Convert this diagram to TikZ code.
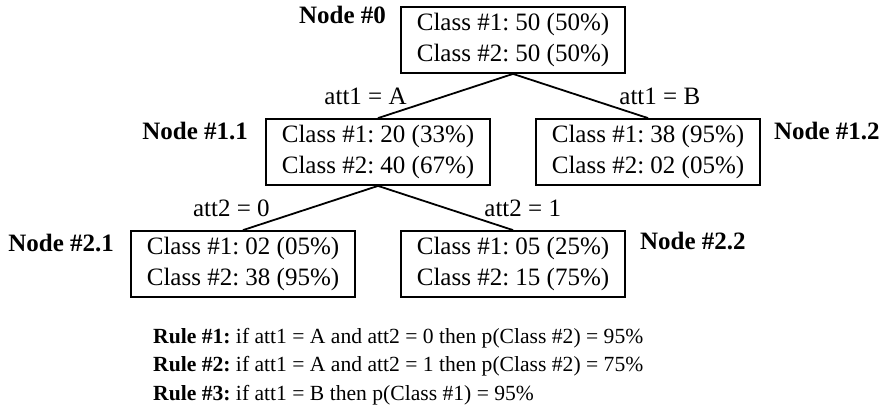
\documentclass[tikz,border=0pt]{standalone}
\usepackage{fontspec}
\setmainfont{Liberation Serif}
\usepackage{tikz}
\usetikzlibrary{positioning}
\frenchspacing
\tikzstyle{split} = [rectangle, draw=black, line width=1.8pt, minimum width=224pt, minimum height=66pt, inner ysep=4pt, align=center, font=\fontsize{25}{31}\selectfont]
\tikzstyle{nodelabel} = [inner sep=0pt, font=\fontsize{25}{30}\selectfont\bfseries]
\tikzstyle{branch} = [inner sep=0pt, font=\fontsize{25}{30}\selectfont]
\tikzstyle{edge} = [line width=1.8pt]
\tikzstyle{rulestext} = [inner sep=0pt, align=left, font=\fontsize{21.6}{28.5}\selectfont]

\begin{document}
\begin{tikzpicture}[x=1pt, y=-1pt, node distance=112pt and 135pt, on grid]
  \useasboundingbox (0,0) rectangle (882,412);
  \node (n0) [split] at (513,40) {Class \#1: 50 (50\%)\\Class \#2: 50 (50\%)};
  \node (n11) [split, below left=of n0] {Class \#1: 20 (33\%)\\Class \#2: 40 (67\%)};
  \node (n12) [split, below right=of n0] {Class \#1: 38 (95\%)\\Class \#2: 02 (05\%)};
  \node (n21) [split, below left=of n11] {Class \#1: 02 (05\%)\\Class \#2: 38 (95\%)};
  \node (n22) [split, below right=of n11] {Class \#1: 05 (25\%)\\Class \#2: 15 (75\%)};

  \node (lab0) [nodelabel, anchor=north east] at ([xshift=-14pt]n0.north west) {Node \#0};
  \node (lab11) [nodelabel, anchor=north east] at ([xshift=-17pt, yshift=-4pt]n11.north west) {Node \#1.1};
  \node (lab12) [nodelabel, anchor=north west] at ([xshift=13pt, yshift=-4pt]n12.north east) {Node \#1.2};
  \node (lab21) [nodelabel, anchor=north east] at ([xshift=-16pt, yshift=-4pt]n21.north west) {Node \#2.1};
  \node (lab22) [nodelabel, anchor=north west] at ([xshift=14pt, yshift=-2pt]n22.north east) {Node \#2.2};

  \draw[edge] (n0.south) -- node[branch, anchor=east, xshift=-38pt] {att1 = A} (n11.north);
  \draw[edge] (n0.south) -- node[branch, anchor=west, xshift=38pt] {att1 = B} (n12.north);
  \draw[edge] (n11.south) -- node[branch, anchor=east, xshift=-40pt] {att2 = 0} (n21.north);
  \draw[edge] (n11.south) -- node[branch, anchor=west, xshift=38pt] {att2 = 1} (n22.north);

  \node (rules) [rulestext, anchor=north west] at (153,328) {\textbf{Rule \#1:} if att1 = A and att2 = 0 then p(Class \#2) = 95\%\\
    \textbf{Rule \#2:} if att1 = A and att2 = 1 then p(Class \#2) = 75\%\\
    \textbf{Rule \#3:} if att1 = B then p(Class \#1) = 95\%};
\end{tikzpicture}
\end{document}
